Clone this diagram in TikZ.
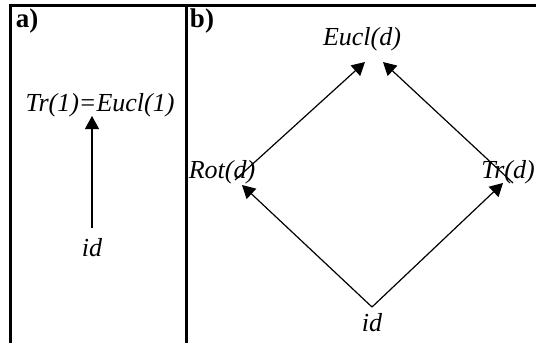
\documentclass[tikz,border=0pt]{standalone}
\usepackage{fontspec}
\setmainfont{Liberation Serif}
\usetikzlibrary{arrows.meta}

\begin{document}
\begin{tikzpicture}[x=1pt,y=-1pt,
    lbl/.style={font=\fontsize{26}{26}\selectfont\itshape, inner sep=0pt},
    tag/.style={font=\fontsize{27}{27}\selectfont\bfseries, inner sep=0pt},
    arr/.style={line width=1.2pt, -{Triangle[length=13pt,width=14pt]}}]
            \useasboundingbox (0,0) rectangle (536,343);
            % frame of the two panels
            \draw[line width=3pt] (10.5,343) -- (10.5,5.5) -- (536,5.5);
            \draw[line width=3pt] (186.5,5.5) -- (186.5,343);
            % panel a
            \node[tag] (taga) at (27,21) {a)};
            \node[lbl] (trone) at (100,105) {Tr(1)=Eucl(1)};
            \node[lbl] (ida) at (92,248) {id};
            \draw[arr] ([yshift=20pt]ida.center) -- ([xshift=-8pt,yshift=-11pt]trone.center);
            % panel b
            \node[tag] (tagb) at (202,21) {b)};
            \node[lbl] (eucl) at (362,39) {Eucl(d)};
            \node[lbl] (rot) at (222,172) {Rot(d)};
            \node[lbl] (trd) at (508,172) {Tr(d)};
            \node[lbl] (idb) at (372,323) {id};
            \draw[arr] ([yshift=16pt]idb.center) -- ([xshift=20pt,yshift=-13pt]rot.center);
            \draw[arr] ([yshift=16pt]idb.center) -- ([xshift=-5pt,yshift=-11pt]trd.center);
            \draw[arr] ([xshift=13pt,yshift=-8pt]rot.center) -- ([xshift=3pt,yshift=-23pt]eucl.center);
            \draw[arr] ([xshift=5pt,yshift=-11pt]trd.center) -- ([xshift=21pt,yshift=-23pt]eucl.center);
        \end{tikzpicture}
\end{document}
